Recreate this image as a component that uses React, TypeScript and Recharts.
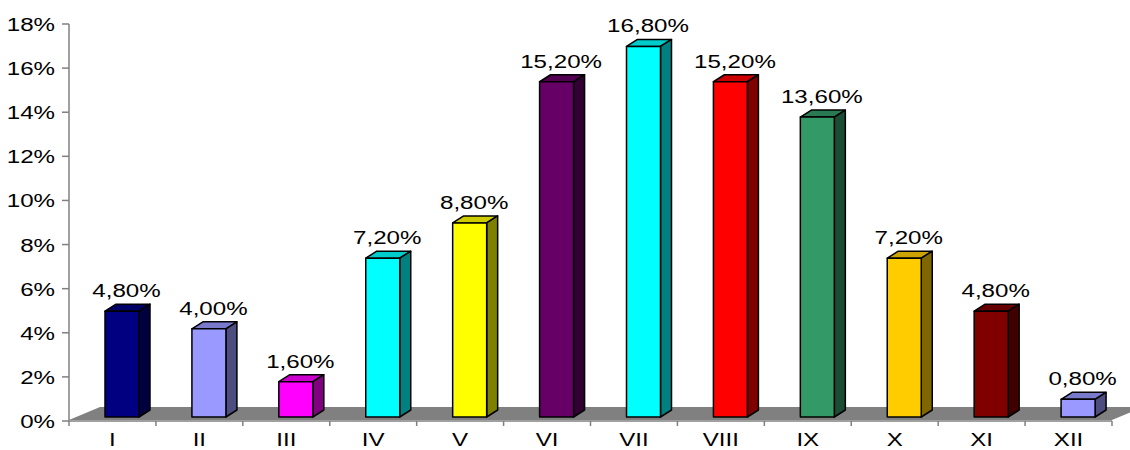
import { BarChart, Bar, XAxis, YAxis, LabelList, ReferenceArea } from 'recharts'

const months = ['I', 'II', 'III', 'IV', 'V', 'VI', 'VII', 'VIII', 'IX', 'X', 'XI', 'XII']
const shares = [4.8, 4.0, 1.6, 7.2, 8.8, 15.2, 16.8, 15.2, 13.6, 7.2, 4.8, 0.8]
const barColors = [
  '#000080', '#9999FF', '#FF00FF', '#00FFFF', '#FFFF00', '#660066',
  '#00FFFF', '#FF0000', '#339966', '#FFCC00', '#800000', '#9999FF',
]
const yTicks = [0, 2, 4, 6, 8, 10, 12, 14, 16, 18]

const data = months.map((name, i) => ({ name, value: shares[i] }))

const FONT = '"Liberation Sans", Arial, sans-serif'
const SX = 1.27 // original text is drawn wider than Arial
const AXIS = '#808080'
// 3d projection of the bars
const SHIFT_X = 10
const SHIFT_Y = 4
const DX = 11
const DY = 7

const shade = (hex: string, k: number) => {
  const n = parseInt(hex.slice(1), 16)
  const r = Math.round(((n >> 16) & 255) * k)
  const g = Math.round(((n >> 8) & 255) * k)
  const b = Math.round((n & 255) * k)
  return `rgb(${r},${g},${b})`
}

const Bar3D = (props: any) => {
  const { x, y, width, height, index } = props
  const c = barColors[index] ?? '#999'
  const fx = x + SHIFT_X
  const fy = y - SHIFT_Y
  const w = width
  const h = height
  return (
    <g stroke="#000" strokeWidth={1.5} strokeLinejoin="round">
      <polygon
        points={`${fx},${fy} ${fx + DX},${fy - DY} ${fx + w + DX},${fy - DY} ${fx + w},${fy}`}
        fill={shade(c, 0.8)}
      />
      <polygon
        points={`${fx + w},${fy} ${fx + w + DX},${fy - DY} ${fx + w + DX},${fy + h - DY} ${fx + w},${fy + h}`}
        fill={shade(c, 0.5)}
      />
      <rect x={fx} y={fy} width={w} height={h} fill={c} />
    </g>
  )
}

const Floor = (props: any) => {
  const { x, y, width, height } = props
  const bottom = y + height - 1
  const top = bottom - 13
  return (
    <polygon
      points={`${x},${bottom} ${x + width},${bottom} ${x + width + 31},${top} ${x + 31},${top}`}
      fill="#808080"
      stroke="none"
    />
  )
}

const ValueLabel = (props: any) => {
  const { x, y, width, value } = props
  const cx = x + SHIFT_X + width / 2 + DX / 2 - 1
  const by = y - SHIFT_Y - DY - 7
  const txt = Number(value).toFixed(2).replace('.', ',') + '%'
  return (
    <text
      transform={`translate(${cx},${by}) scale(${SX},1)`}
      textAnchor="middle"
      fontFamily={FONT}
      fontSize={19}
      fill="#000"
    >
      {txt}
    </text>
  )
}

const YTick = (props: any) => {
  const { x, y, payload } = props
  return (
    <text
      transform={`translate(${x},${y + 7}) scale(${SX},1)`}
      textAnchor="end"
      fontFamily={FONT}
      fontSize={19}
      fill="#000"
    >
      {`${payload.value}%`}
    </text>
  )
}

const XTick = (props: any) => {
  const { x, y, payload, index } = props
  const half = payload.offset || 43.5
  const axisY = y - 7
  return (
    <g>
      <line x1={x - half} y1={axisY} x2={x - half} y2={axisY + 5} stroke={AXIS} strokeWidth={1.5} />
      {index === months.length - 1 && (
        <line x1={x + half} y1={axisY} x2={x + half} y2={axisY + 5} stroke={AXIS} strokeWidth={1.5} />
      )}
      <text
        transform={`translate(${x},${axisY + 25}) scale(${SX},1)`}
        textAnchor="middle"
        fontFamily={FONT}
        fontSize={19}
        fill="#000"
      >
        {payload.value}
      </text>
    </g>
  )
}

export default function App() {
  return (
    <div style={{ position: 'absolute', left: 0, top: 0, background: '#fff' }}>
      <BarChart
        width={1130}
        height={450}
        data={data}
        margin={{ top: 24, right: 18, bottom: 0, left: 9 }}
      >
        <XAxis
          dataKey="name"
          height={29}
          tickLine={false}
          tickSize={5}
          tickMargin={2}
          axisLine={{ stroke: AXIS, strokeWidth: 1.5 }}
          tick={<XTick />}
          interval={0}
        />
        <YAxis
          width={60}
          domain={[0, 18]}
          ticks={yTicks}
          interval={0}
          tickSize={7}
          tickMargin={7}
          tickLine={{ stroke: AXIS, strokeWidth: 1.5 }}
          axisLine={{ stroke: AXIS, strokeWidth: 1.5 }}
          tick={<YTick />}
        />
        <ReferenceArea y1={0} y2={0.6} shape={<Floor />} />
        <Bar dataKey="value" barSize={34} shape={<Bar3D />} isAnimationActive={false}>
          <LabelList dataKey="value" content={<ValueLabel />} />
        </Bar>
      </BarChart>
    </div>
  )
}
